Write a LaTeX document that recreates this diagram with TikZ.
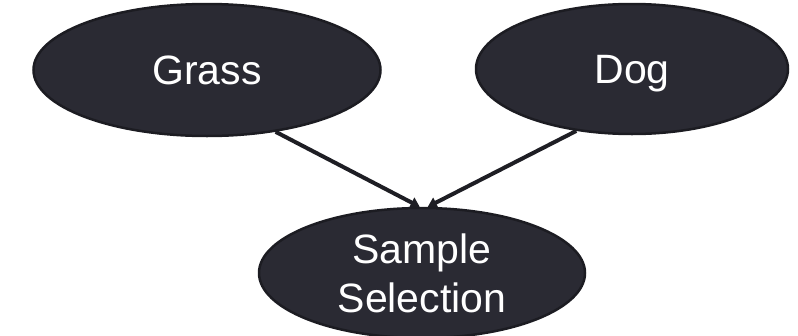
\documentclass[tikz,border=0pt]{standalone}
\usepackage{fontspec}
\setmainfont{Liberation Sans}
\usetikzlibrary{shapes.geometric,arrows.meta,backgrounds}
\definecolor{nodefill}{RGB}{42,42,51}
\definecolor{nodeline}{RGB}{28,28,34}
\definecolor{edgecol}{RGB}{30,30,36}
\begin{document}
\begin{tikzpicture}[x=1pt,y=-1pt,
  ell/.style={ellipse, fill=nodefill, draw=nodeline, line width=2.5pt, inner sep=0pt,
    text=white, font=\fontsize{41}{49}\selectfont, align=center},
  edge/.style={draw=edgecol, line width=4pt, -{Triangle[length=9pt,width=11pt]}}]
\useasboundingbox (0,0) rectangle (798,335);
\node[ell, minimum width=347pt, minimum height=132pt, text height=29.4pt, text depth=0pt] (grass) at (207,70) {Grass};
\node[ell, minimum width=312pt, minimum height=130pt, text height=29.4pt, text depth=0pt] (dog) at (632,69) {Dog};
\node[ell, minimum width=326pt, minimum height=130pt] (sample) at (422,273) {Sample\\Selection};
\begin{scope}[on background layer]
\draw[edge] (grass.-42) -- (sample.92);
\draw[edge] (dog.-132) -- (sample.85);
\end{scope}
\end{tikzpicture}
\end{document}
